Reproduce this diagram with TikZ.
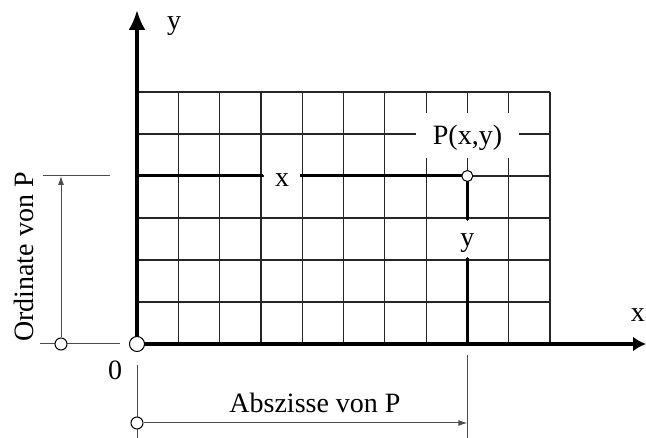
\documentclass[tikz,border=0pt]{standalone}
\usepackage{fontspec}
\setmainfont{Liberation Serif}
\usetikzlibrary{arrows.meta}
\begin{document}
\begin{tikzpicture}[x=1pt,y=-1pt,
 gridline/.style={line width=1.2pt, black!85},
 axis/.style={line width=3.2pt},
 thickline/.style={line width=3pt},
 dimline/.style={line width=1pt, black!70},
 lbl/.style={font=\fontsize{28}{31}\selectfont, inner sep=0pt},
 ring/.style={circle, draw=black, fill=white, line width=1pt, inner sep=0pt}]
\useasboundingbox (0,0) rectangle (646,438);
% grid
\foreach \i in {1,...,10} \draw[gridline] ({137+41.3*\i},92) -- ({137+41.3*\i},344);
\foreach \j in {0,...,5} \draw[gridline] (137,{92+42*\j}) -- (550,{92+42*\j});
% blank the grid behind the x and y labels
\fill[white] (263.5,170) rectangle (299.5,182);
\fill[white] (461,221) rectangle (473,257);
% coordinates
\coordinate (O) at (137,344);
\coordinate (ytop) at (137,10);
\coordinate (xend) at (646,344);
\coordinate (P) at (467.3,176);
\coordinate (yl) at (137,176);
\coordinate (xa) at (263,176);
\coordinate (xb) at (300,176);
\coordinate (ya) at (467.3,220);
\coordinate (yb) at (467.3,258);
\coordinate (Py) at (467.3,344);
% P label box
\node[fill=white, minimum width=103pt, minimum height=45pt, inner sep=0pt] (pbox) at (467.5,135.5) {};
\node[lbl, anchor=base] (plabel) at (467.5,145) {P(x,y)};
% thick lines to P
\draw[thickline] (yl) -- (xa);
\draw[thickline] (xb) -- (P);
\node[lbl, anchor=base] (xlabel) at (282,187) {x};
\draw[thickline] (P) -- (ya);
\draw[thickline] (yb) -- (Py);
\node[lbl, anchor=base] (ylabel) at (467.3,247) {y};
% axes
\draw[axis, -{Latex[length=20pt, width=17pt]}] (O) -- (ytop);
\draw[axis, -{Latex[length=13pt, width=15pt]}] (O) -- (xend);
\node[lbl, anchor=base] (yaxl) at (174,30) {y};
\node[lbl, anchor=base east] (xaxl) at (645,322) {x};
\node[lbl, anchor=base] (zero) at (115,380) {0};
\node[ring, minimum size=15pt] (origin) at (O) {};
\node[ring, minimum size=11pt] (pt) at (P) {};
% ordinate dimension
\coordinate (el1) at (43,176);
\coordinate (el2) at (110,176);
\coordinate (el3) at (40,344);
\coordinate (el4) at (120,344);
\coordinate (ot) at (61,176);
\draw[dimline] (el1) -- (el2);
\draw[dimline] (el3) -- (el4);
\node[ring, minimum size=12pt] (ol) at (61,344) {};
\draw[dimline, -{Latex[length=9pt, width=6pt]}] (ol) -- (ot);
\node[lbl, rotate=90] (ordl) at (24,257) {Ordinate von P};
% abscissa dimension
\coordinate (v1) at (137,365);
\coordinate (v2) at (137,438);
\coordinate (v3) at (467.3,355);
\coordinate (v4) at (467.3,438);
\coordinate (ar) at (467.3,423);
\draw[dimline] (v1) -- (v2);
\draw[dimline] (v3) -- (v4);
\node[ring, minimum size=12pt] (al) at (137,423) {};
\draw[dimline, -{Latex[length=9pt, width=6pt]}] (al) -- (ar);
\node[lbl, anchor=base] (absl) at (315,413) {Abszisse von P};
\end{tikzpicture}
\end{document}
